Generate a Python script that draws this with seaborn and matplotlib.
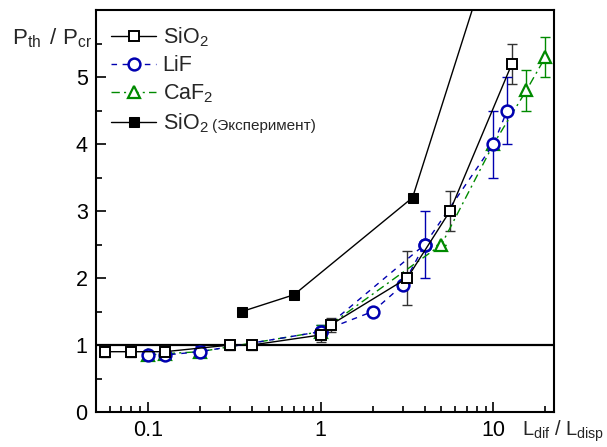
import matplotlib
matplotlib.use("Agg")
import matplotlib.pyplot as plt
import seaborn as sns
import pandas as pd
from matplotlib.ticker import FixedLocator, MultipleLocator, LogLocator, NullFormatter, FixedFormatter

# SiO2 simulation
sio2_x = [0.056, 0.08, 0.125, 0.3, 0.4, 1.0, 1.14, 3.17, 5.6, 12.8]
sio2_y = [0.9, 0.9, 0.9, 1.0, 1.0, 1.15, 1.3, 2.0, 3.0, 5.2]
sio2_err = [0.08, 0.08, 0.08, 0.08, 0.08, 0.1, 0.1, 0.4, 0.3, 0.3]

# LiF simulation (main branch and intermediate branch)
lif_x = [0.1, 0.125, 0.2, 1.0, 4.0, 10.0, 12.0]
lif_y = [0.85, 0.85, 0.9, 1.2, 2.5, 4.0, 4.5]
lif_err = [0.0, 0.0, 0.08, 0.1, 0.5, 0.5, 0.5]
lif2_x = [1.0, 2.0, 3.0, 4.0]
lif2_y = [1.2, 1.5, 1.9, 2.5]

# CaF2 simulation
caf2_x = [0.1, 0.125, 0.2, 1.0, 5.0, 10.0, 15.5, 20.0]
caf2_y = [0.85, 0.87, 0.9, 1.2, 2.5, 4.0, 4.8, 5.3]
caf2_err = [0.0, 0.0, 0.0, 0.1, 0.0, 0.0, 0.3, 0.3]

# SiO2 experiment
exp_x = [0.35, 0.7, 3.4, 10.0]
exp_y = [1.5, 1.75, 3.2, 7.0]

x_ticks = [0.1, 1, 10]
x_ticklabels = ["0.1", "1", "10"]
y_ticks = [0, 1, 2, 3, 4, 5]

sns.set_theme(style="ticks")
plt.rcParams["font.family"] = ["Liberation Sans", "DejaVu Sans"]
plt.rcParams["mathtext.fontset"] = "custom"
plt.rcParams["mathtext.rm"] = "Liberation Sans"
plt.rcParams["mathtext.it"] = "Liberation Sans:italic"
plt.rcParams["mathtext.bf"] = "Liberation Sans:bold"

fig = plt.figure(figsize=(6.07, 4.47), dpi=100)
ax = fig.add_axes([96 / 607, 35 / 447, 458 / 607, 402 / 447])

BLUE = "#0000b0"
GREEN = "#008a00"

# error bars
ax.errorbar(sio2_x, sio2_y, yerr=sio2_err, fmt="none", ecolor="#333333",
            elinewidth=1.0, capsize=3.5, capthick=1.0, zorder=2)
ax.errorbar(lif_x, lif_y, yerr=lif_err, fmt="none", ecolor=BLUE,
            elinewidth=1.0, capsize=3.5, capthick=1.0, zorder=2)
ax.errorbar(caf2_x, caf2_y, yerr=caf2_err, fmt="none", ecolor=GREEN,
            elinewidth=1.0, capsize=3.5, capthick=1.0, zorder=2)

df_sio2 = pd.DataFrame({"x": sio2_x, "y": sio2_y})
df_lif = pd.DataFrame({"x": lif_x, "y": lif_y})
df_lif2 = pd.DataFrame({"x": lif2_x, "y": lif2_y})
df_caf2 = pd.DataFrame({"x": caf2_x, "y": caf2_y})
df_exp = pd.DataFrame({"x": exp_x, "y": exp_y})

sns.lineplot(data=df_exp, x="x", y="y", ax=ax, color="black", lw=1.0,
             marker="s", markersize=7, markerfacecolor="black",
             markeredgecolor="black", label="SiO$_2$", zorder=3)
sns.lineplot(data=df_caf2, x="x", y="y", ax=ax, color=GREEN, lw=1.0,
             linestyle=(0, (6, 3, 1.5, 3)), marker="^", markersize=9,
             markerfacecolor="white", markeredgecolor=GREEN, markeredgewidth=1.6,
             label="CaF$_2$", zorder=4)
sns.lineplot(data=df_lif2, x="x", y="y", ax=ax, color=BLUE, lw=1.0,
             linestyle=(0, (4, 4)), marker="o", markersize=8.5,
             markerfacecolor="white", markeredgecolor=BLUE, markeredgewidth=1.8,
             zorder=5)
sns.lineplot(data=df_lif, x="x", y="y", ax=ax, color=BLUE, lw=1.0,
             linestyle=(0, (4, 4)), marker="o", markersize=8.5,
             markerfacecolor="white", markeredgecolor=BLUE, markeredgewidth=1.8,
             label="LiF", zorder=5)
sns.lineplot(data=df_sio2, x="x", y="y", ax=ax, color="black", lw=1.0,
             marker="s", markersize=7, markerfacecolor="white",
             markeredgecolor="black", markeredgewidth=1.4,
             label="SiO$_2$", zorder=6)

ax.axhline(1.0, color="black", lw=1.6, zorder=1)

ax.set_xscale("log")
ax.set_xlim(0.05, 22.4)
ax.set_ylim(0, 6)
ax.xaxis.set_major_locator(FixedLocator(x_ticks))
ax.xaxis.set_major_formatter(FixedFormatter(x_ticklabels))
ax.xaxis.set_minor_locator(LogLocator(base=10, subs=range(2, 10), numticks=20))
ax.xaxis.set_minor_formatter(NullFormatter())
ax.yaxis.set_major_locator(FixedLocator(y_ticks))
ax.yaxis.set_minor_locator(MultipleLocator(0.5))
ax.tick_params(which="both", direction="in", top=False, right=False,
               width=1.2, colors="black", labelsize=15.5)
ax.tick_params(which="major", length=7, pad=6)
ax.tick_params(which="minor", length=4)
ax.set_xlabel("")
ax.set_ylabel("")
for s in ax.spines.values():
    s.set_visible(True)
    s.set_linewidth(1.5)
    s.set_color("black")

# legend in order: SiO2, LiF, CaF2, SiO2 (experiment)
h, l = ax.get_legend_handles_labels()
order = [3, 2, 1, 0]
leg = ax.legend([h[i] for i in order], [l[i] for i in order], loc="upper left",
                frameon=False, fontsize=15.5, handlelength=2.1, handletextpad=0.3,
                labelspacing=0.3, borderaxespad=0.3, bbox_to_anchor=(0.0, 1.0))

fig.text(12 / 607, 1 - 44 / 447,
         r"P$_{\mathregular{th}}$ $\,$/ P$_{\mathregular{cr}}$",
         fontsize=16, ha="left", va="baseline")
fig.text(522 / 607, 1 - 436 / 447,
         r"L$_{\mathregular{dif}}$ / L$_{\mathregular{disp}}$",
         fontsize=14.5, ha="left", va="baseline")

fig.canvas.draw()
txt = leg.get_texts()[3]
bb = txt.get_window_extent()
fig.text((bb.x1 + 4) / fig.bbox.width, (bb.y0 + 5) / fig.bbox.height, "(Эксперимент)",
         fontsize=11, ha="left", va="baseline")

fig.savefig("out.png", dpi=100)
